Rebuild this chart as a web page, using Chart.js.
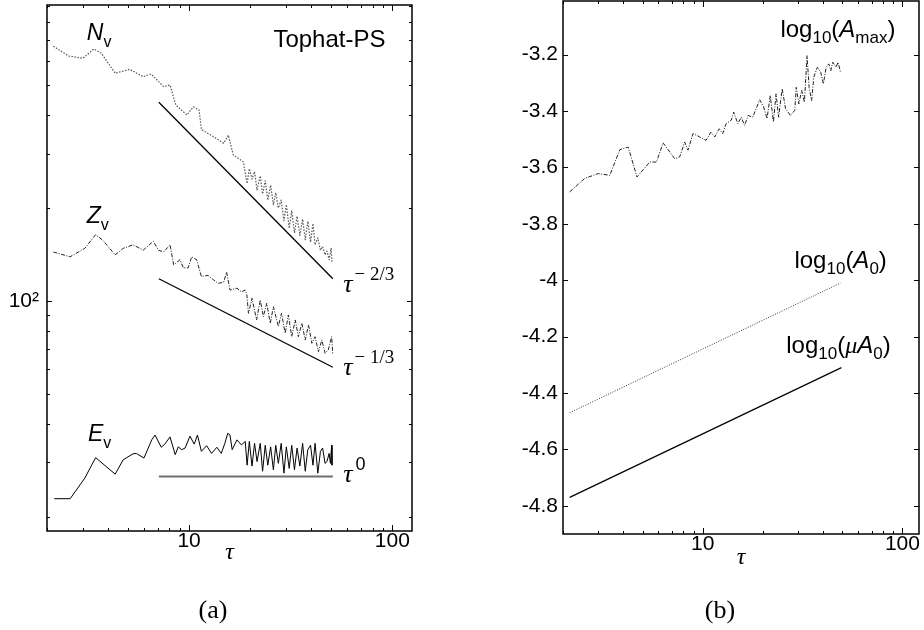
<!DOCTYPE html>
<html>
<head>
<meta charset="utf-8">
<script src="https://cdn.jsdelivr.net/npm/chart.js@4.4.1/dist/chart.umd.min.js"></script>
<style>
  html, body { margin: 0; padding: 0; background: #fff; }
  #wrap { position: relative; width: 924px; height: 630px; }
  canvas { position: absolute; top: 0; }
  #cA { left: 0; }
  #cB { left: 462px; }
</style>
</head>
<body>
<div id="wrap">
  <canvas id="cA" width="462" height="630"></canvas>
  <canvas id="cB" width="462" height="630"></canvas>
</div>
<script>
// (a) N_v, Z_v, E_v against tau
const nvTau = [2.15, 2.55, 3.0, 3.4, 3.7, 4.33, 5.1, 5.95, 6.5, 7.5, 8.06, 8.6, 9.75, 10.5, 11.2, 11.5, 13.2, 14.8, 15.6, 16.5, 18.5,
  19.3, 19.8, 20.4, 21.0, 21.6, 22.4, 23.0, 23.7, 24.4, 25.2, 26.0, 26.7, 27.5, 28.4, 29.3, 30.1, 31.1, 32.0, 33.0, 34.0,
  35.1, 36.2, 37.3, 38.4, 39.6, 40.7, 41.7, 43.0, 44.3, 45.4, 46.7, 47.7, 48.9, 50.0, 50.5];
const nvVal = [668, 621, 610, 654, 634, 546, 562, 532, 543, 494, 500, 431, 400, 425, 415, 359, 340, 324, 344, 297, 282,
  240, 268, 248, 262, 229, 254, 222, 245, 212, 237, 205, 224, 200, 212, 182, 205, 172, 196, 166, 188,
  163, 184, 158, 181, 155, 178, 152, 160, 146, 150, 141, 145, 136, 148, 133];

const zvTau = [2.15, 2.6, 3.07, 3.47, 3.77, 4.33, 4.74, 5.3, 5.95, 6.67, 7.07, 7.5, 8.06, 8.4, 9.03, 9.37, 9.9, 10.3, 10.9, 11.5,
  12.4, 13.2, 13.9, 14.8, 15.3, 15.9, 17.2, 18.1, 18.9, 19.25, 19.6, 20.4, 21.5, 22.4, 23.2, 24.1, 25.1, 26.0, 27.5, 28.5,
  29.7, 30.8, 32.0, 33.3, 34.5, 35.9, 37.3, 38.7, 40.2, 41.7, 43.3, 45.0, 46.7, 48.4, 50.3, 50.9];
const zvVal = [144, 139, 148, 164, 157, 141, 148, 152, 146, 156, 146, 144, 152, 131, 136, 128, 128, 139, 136, 120,
  121, 117, 114, 115, 124, 108.5, 110, 107, 108.5, 104.6, 91.2, 102, 86.8, 100.7, 89, 98.3, 84.7, 95.8, 82.6, 91.2,
  78.6, 90.1, 76.6, 86.8, 76.6, 84.7, 74.8, 83.6, 72.9, 76.6, 68.5, 74.8, 67.7, 69.4, 76.6, 67.7];

const evTau = [2.17, 2.6, 3.07, 3.47, 4.33, 4.74, 5.3, 5.5, 6.0, 6.55, 6.8, 7.3, 7.6, 8.06, 8.55, 8.85, 9.2, 9.56, 10.1, 10.6,
  11.0, 11.5, 12.2, 12.9, 13.7, 14.4, 15.0, 15.5, 15.9, 16.3, 17.2, 18.1, 18.9, 19.3, 19.8, 20.4, 21.0, 21.6, 22.4, 23.0,
  23.7, 24.4, 25.2, 26.0, 26.7, 27.5, 28.4, 29.3, 30.1, 31.1, 32.0, 33.0, 34.0, 35.1, 36.2, 37.3, 38.4, 39.6, 40.7, 41.7,
  43.0, 44.3, 45.4, 46.7, 47.7, 48.9, 49.6, 50.3, 50.5];
const evVal = [22.9, 22.9, 26.7, 31.1, 27.5, 30.6, 32.0, 32.1, 31.0, 35.5, 36.8, 33.6, 34.4, 36.3, 31.8, 33.7, 33.0, 33.4, 36.5, 34.4,
  36.8, 32.6, 34.0, 32.1, 33.6, 32.1, 34.6, 37.3, 36.8, 33.0, 35.5, 34.2, 35.1, 29.4, 35.1, 29.2, 34.6, 30.2, 34.6, 28.1,
  34.1, 29.4, 33.7, 28.4, 34.1, 29.8, 34.6, 27.7, 33.7, 28.7, 34.1, 28.4, 33.4, 29.2, 34.6, 28.1, 33.0, 34.1, 29.4, 34.6,
  27.7, 32.6, 33.4, 29.8, 30.2, 32.1, 29.8, 34.1, 29.4];

// power-law guides: tau^-2/3, tau^-1/3, tau^0
const guideTau = [7.1, 51];
const guideM23 = [440, 118];
const guideM13 = [118, 61];
const guideZero = [27, 27];

// (b) log10 of the amplitudes
const amaxTau = [2.16, 2.57, 3.0, 3.43, 3.85, 4.24, 4.69, 5.44, 5.87, 6.34, 7.24, 7.67, 8.13, 8.44, 8.95, 9.66, 10.4, 11.0, 11.5, 12.1,
  12.6, 13.1, 13.9, 14.3, 15.0, 15.6, 16.2, 16.9, 17.8, 19.3, 20.2, 21.0, 21.8, 22.6, 23.3, 24.0, 25.0, 26.0, 27.5, 28.9,
  29.4, 30.3, 31.3, 32.3, 33.3, 34.1, 35.1, 36.0, 37.5, 39.0, 40.2, 41.5, 42.8, 43.8, 44.8, 46.5, 47.6, 49.0];
const amaxVal = [-3.687, -3.639, -3.622, -3.628, -3.537, -3.528, -3.634, -3.581, -3.581, -3.513, -3.569, -3.563, -3.510, -3.539, -3.480, -3.492, -3.504, -3.475, -3.492, -3.463,
  -3.480, -3.445, -3.433, -3.404, -3.445, -3.422, -3.451, -3.416, -3.422, -3.360, -3.386, -3.427, -3.345, -3.439, -3.339, -3.422, -3.321, -3.392, -3.416, -3.398,
  -3.316, -3.375, -3.327, -3.369, -3.204, -3.316, -3.363, -3.280, -3.245, -3.263, -3.304, -3.245, -3.233, -3.257, -3.227, -3.245, -3.227, -3.263];
const a0Tau = [2.16, 49];
const a0Val = [-4.47, -4.01];
const muA0Tau = [2.16, 49.5];
const muA0Val = [-4.77, -4.31];

// tick positions
const logTicksX = [2, 3, 4, 5, 6, 7, 8, 9, 10, 20, 30, 40, 50, 60, 70, 80, 90, 100];
const logTicksYA = [20, 30, 40, 50, 60, 70, 80, 90, 100, 200, 300, 400, 500, 600, 700, 800, 900];
const ticksYB = [-4.8, -4.6, -4.4, -4.2, -4, -3.8, -3.6, -3.4, -3.2];

const SANS = '"Liberation Sans", Arial, sans-serif';
const SERIF = '"Liberation Serif", "Times New Roman", serif';

const pairs = (xs, ys) => xs.map((x, i) => ({ x: x, y: ys[i] }));

// frame box with inward ticks on all four sides
const framePlugin = {
  id: 'frame',
  afterDraw(chart) {
    const { ctx, chartArea: a } = chart;
    const x = chart.scales.x, y = chart.scales.y;
    ctx.save();
    ctx.strokeStyle = '#000';
    ctx.lineWidth = 1;
    ctx.beginPath();
    x.ticks.forEach(t => {
      const p = Math.round(x.getPixelForValue(t.value)) + 0.5;
      const len = t.major ? 6 : 3;
      ctx.moveTo(p, a.bottom); ctx.lineTo(p, a.bottom - len);
      ctx.moveTo(p, a.top); ctx.lineTo(p, a.top + len);
    });
    y.ticks.forEach(t => {
      const p = Math.round(y.getPixelForValue(t.value)) + 0.5;
      const len = t.major ? 5 : 3;
      ctx.moveTo(a.left, p); ctx.lineTo(a.left + len, p);
      ctx.moveTo(a.right, p); ctx.lineTo(a.right - len, p);
    });
    ctx.stroke();
    ctx.lineWidth = 1.5;
    ctx.strokeRect(a.left, a.top, a.right - a.left, a.bottom - a.top);
    ctx.restore();
  }
};

// text labels with sub/superscripts, anchored in data coordinates
function makeNotes(items) {
  return {
    id: 'notes',
    afterDatasetsDraw(chart) {
      const ctx = chart.ctx;
      const x = chart.scales.x, y = chart.scales.y;
      ctx.save();
      ctx.fillStyle = '#000';
      ctx.textAlign = 'left';
      ctx.textBaseline = 'alphabetic';
      items.forEach(item => {
        let cx = x.getPixelForValue(item.at[0]);
        const cy = y.getPixelForValue(item.at[1]);
        item.parts.forEach(p => {
          ctx.font = p.font;
          cx += p.gap || 0;
          ctx.fillText(p.t, cx, cy + (p.dy || 0));
          cx += ctx.measureText(p.t).width;
        });
      });
      ctx.restore();
    }
  };
}

// panel caption under the axis
function makeCaption(text, cx) {
  return {
    id: 'caption',
    afterDraw(chart) {
      const ctx = chart.ctx;
      ctx.save();
      ctx.font = `26px ${SERIF}`;
      ctx.fillStyle = '#000';
      ctx.textAlign = 'center';
      ctx.textBaseline = 'middle';
      ctx.fillText(text, cx, chart.height - 19);
      ctx.restore();
    }
  };
}

const big = `24px ${SANS}`;
const bigIt = `italic 24px ${SANS}`;
const sub = `17px ${SANS}`;
const lblIt = `italic 23px ${SANS}`;
const lblSub = `16px ${SANS}`;
const tauFont = `italic 26px ${SERIF}`;

const notesA = [
  { at: [3.14, 699], parts: [{ t: 'N', font: lblIt }, { t: 'v', font: lblSub, dy: 7 }] },
  { at: [3.14, 179], parts: [{ t: 'Z', font: lblIt }, { t: 'v', font: lblSub, dy: 7 }] },
  { at: [3.18, 35.2], parts: [{ t: 'E', font: lblIt }, { t: 'v', font: lblSub, dy: 7 }] },
  { at: [26.0, 665], parts: [{ t: 'Tophat-PS', font: `24px ${SANS}` }] },
  { at: [57.4, 107], parts: [{ t: 'τ', font: tauFont }, { t: '− 2/3', font: `19px ${SERIF}`, dy: -12, gap: 2 }] },
  { at: [57.4, 57.6], parts: [{ t: 'τ', font: tauFont }, { t: '− 1/3', font: `19px ${SERIF}`, dy: -12, gap: 2 }] },
  { at: [57.4, 26.0], parts: [{ t: 'τ', font: tauFont }, { t: '0', font: `18px ${SANS}`, dy: -12, gap: 3 }] }
];

const notesB = [
  { at: [24.5, -3.139], parts: [{ t: 'log', font: big }, { t: '10', font: sub, dy: 6 }, { t: '(', font: big },
    { t: 'A', font: bigIt }, { t: 'max', font: sub, dy: 6 }, { t: ')', font: big }] },
  { at: [28.8, -3.957], parts: [{ t: 'log', font: big }, { t: '10', font: sub, dy: 6 }, { t: '(', font: big },
    { t: 'A', font: bigIt }, { t: '0', font: sub, dy: 6 }, { t: ')', font: big }] },
  { at: [26.2, -4.258], parts: [{ t: 'log', font: big }, { t: '10', font: sub, dy: 6 }, { t: '(', font: big },
    { t: 'μ', font: `italic 24px ${SERIF}` }, { t: 'A', font: bigIt }, { t: '0', font: sub, dy: 6 }, { t: ')', font: big }] }
];

function baseOptions(opts) {
  return {
    responsive: false,
    animation: false,
    devicePixelRatio: 1,
    layout: { padding: opts.padding },
    elements: {
      point: { radius: 0 },
      line: { tension: 0, fill: false, borderJoinStyle: 'round' }
    },
    plugins: {
      legend: { display: false },
      tooltip: { enabled: false }
    },
    scales: {
      x: {
        type: 'logarithmic', min: 2, max: opts.xMax,
        grid: { display: false, drawTicks: false },
        border: { display: false },
        ticks: {
          autoSkip: false, maxRotation: 0, padding: 0, color: '#000',
          font: { family: SANS, size: 21, lineHeight: 1 },
          callback: v => (v === 10 || v === 100) ? String(v) : ''
        },
        afterBuildTicks: s => { s.ticks = logTicksX.map(v => ({ value: v, major: v === 10 || v === 100 })); },
        afterFit: s => { s.height = opts.xHeight; s.paddingLeft = 0; s.paddingRight = 0; },
        title: {
          display: true, text: 'τ', color: '#000',
          font: { family: SERIF, size: 24, style: 'italic' },
          padding: { top: 0, bottom: opts.tauPad }
        }
      },
      y: opts.y
    }
  };
}

new Chart(document.getElementById('cA'), {
  type: 'line',
  data: {
    datasets: [
      { data: pairs(nvTau, nvVal), borderColor: '#555', borderWidth: 1.2, borderDash: [1.5, 1.5] },
      { data: pairs(zvTau, zvVal), borderColor: '#222', borderWidth: 1, borderDash: [4, 1.5, 1, 1.5] },
      { data: pairs(evTau, evVal), borderColor: '#000', borderWidth: 1 },
      { data: pairs(guideTau, guideM23), borderColor: '#000', borderWidth: 1.3 },
      { data: pairs(guideTau, guideM13), borderColor: '#000', borderWidth: 1.3 },
      { data: pairs(guideTau, guideZero), borderColor: '#6e6e6e', borderWidth: 2 }
    ]
  },
  options: baseOptions({
    padding: { left: 0, right: 50, top: 5, bottom: 37 },
    xMax: 125, xHeight: 62, tauPad: 26,
    y: {
      type: 'logarithmic', min: 18, max: 908,
      grid: { display: false, drawTicks: false },
      border: { display: false },
      ticks: {
        autoSkip: false, padding: 8, color: '#000',
        font: { family: SANS, size: 21, lineHeight: 1 },
        callback: v => v === 100 ? '10²' : ''
      },
      afterBuildTicks: s => { s.ticks = logTicksYA.map(v => ({ value: v, major: v === 100 })); },
      afterFit: s => { s.width = 47; s.paddingTop = 0; s.paddingBottom = 0; }
    }
  }),
  plugins: [framePlugin, makeNotes(notesA), makeCaption('(a)', 213)]
});

new Chart(document.getElementById('cB'), {
  type: 'line',
  data: {
    datasets: [
      { data: pairs(amaxTau, amaxVal), borderColor: '#222', borderWidth: 1, borderDash: [4, 1.5, 1, 1.5] },
      { data: pairs(a0Tau, a0Val), borderColor: '#333', borderWidth: 1, borderDash: [1, 1.5] },
      { data: pairs(muA0Tau, muA0Val), borderColor: '#000', borderWidth: 1.2 }
    ]
  },
  options: baseOptions({
    padding: { left: 0, right: 5, top: 1, bottom: 37 },
    xMax: 121, xHeight: 59, tauPad: 21,
    y: {
      type: 'linear', min: -4.9, max: -3.01,
      grid: { display: false, drawTicks: false },
      border: { display: false },
      ticks: {
        autoSkip: false, padding: 5, color: '#000',
        font: { family: SANS, size: 21, lineHeight: 1 },
        callback: v => String(Math.round(v * 10) / 10)
      },
      afterBuildTicks: s => { s.ticks = ticksYB.map(v => ({ value: v, major: true })); },
      afterFit: s => { s.width = 101; s.paddingTop = 0; s.paddingBottom = 0; }
    }
  }),
  plugins: [framePlugin, makeNotes(notesB), makeCaption('(b)', 258)]
});
</script>
</body>
</html>
